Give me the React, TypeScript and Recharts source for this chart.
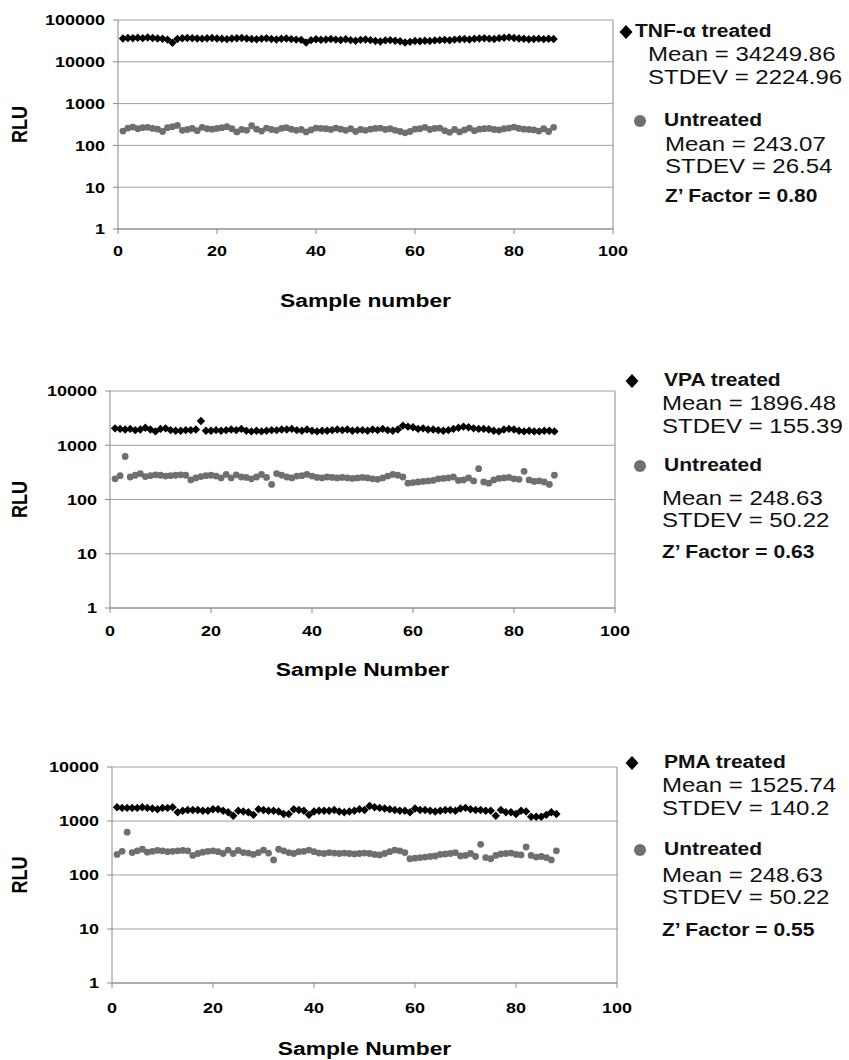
import React from "react"
import { ScatterChart, Scatter, XAxis, YAxis, CartesianGrid, ReferenceLine } from "recharts"

// the scanned figure is stretched horizontally, text is scaled the same way
const SX = 1.2
const FONT = "'Liberation Sans', Arial, Helvetica, sans-serif"

const xTicks = [0, 20, 40, 60, 80, 100]
const yTicksTnf = [1, 10, 100, 1000, 10000, 100000]
const yTicksSmall = [1, 10, 100, 1000, 10000]

// TNF-alpha panel
const tnfTreated = [
  36000, 37000, 36500, 37500, 36800, 38000, 37200, 36000, 35500, 34000,
  28500, 35000, 36500, 37000, 36800, 36200, 35800, 36500, 37000, 36000,
  35500, 34800, 36000, 36500, 37200, 36000, 35200, 34500, 35800, 36500,
  35000, 34200, 35500, 36000, 34800, 34000, 33500, 29000, 33000, 34500,
  33800, 34200, 35000, 34000, 33200, 34500, 33000, 32000, 33500, 34200,
  33000, 31500, 30500, 32500, 33000, 32000, 31000, 29000, 30000, 31500,
  31000, 32000, 31500, 32500, 33000, 33500, 32800, 34000, 34500, 35000,
  34200, 35500, 36000, 36500, 35800, 35200, 36800, 37500, 38500, 37000,
  36000, 35500, 34500, 35000, 35800, 34800, 35500, 35000,
]
const tnfUntreated = [
  220, 260, 275, 250, 265, 270, 255, 245, 215, 265,
  280, 300, 230, 240, 255, 225, 270, 250, 245, 255,
  265, 280, 250, 210, 240, 230, 295, 245, 220, 260,
  240, 230, 255, 265, 245, 230, 240, 210, 235, 260,
  255, 250, 240, 260, 245, 230, 250, 215, 240, 230,
  245, 255, 260, 240, 250, 230, 215, 200, 215, 245,
  250, 270, 240, 255, 260, 225, 205, 240, 210, 235,
  260, 225, 245, 250, 255, 240, 235, 250, 260, 275,
  255, 245, 240, 235, 220, 250, 215, 270,
]

// VPA panel
const vpaTreated = [
  2050, 2000, 1950, 2000, 1900, 1950, 2100, 1950, 1800, 2000,
  2050, 1900, 1850, 1850, 1900, 1900, 1950, 2800, 1850, 1850,
  1900, 1850, 1900, 1950, 1900, 2000, 1850, 1800, 1850, 1800,
  1850, 1900, 1900, 1950, 1950, 2000, 1900, 1850, 1950, 1850,
  1800, 1850, 1850, 1900, 1950, 1900, 1950, 1850, 1900, 1900,
  1850, 1950, 1900, 2000, 1900, 1850, 1950, 2300, 2200, 2150,
  2000, 2050, 1950, 1950, 1900, 1850, 1900, 2000, 2100, 2200,
  2150, 2050, 2000, 2000, 1950, 1850, 1800, 1950, 2000, 1950,
  1850, 1800, 1850, 1800, 1800, 1850, 1850, 1800,
]
// same untreated plate is shown in the VPA and PMA panels
const plateUntreated = [
  240, 275, 620, 260, 280, 300, 265, 275, 285, 280,
  270, 275, 280, 285, 280, 230, 250, 265, 275, 280,
  270, 250, 290, 250, 285, 260, 255, 240, 260, 290,
  255, 190, 300, 280, 260, 250, 270, 275, 290, 270,
  255, 250, 260, 255, 250, 255, 250, 245, 250, 255,
  250, 240, 235, 250, 270, 290, 280, 260, 200, 205,
  210, 215, 220, 225, 240, 245, 250, 260, 225, 230,
  250, 220, 370, 210, 200, 230, 245, 250, 255, 240,
  235, 330, 230, 215, 220, 210, 190, 280,
]

// PMA panel
const pmaTreated = [
  1800, 1750, 1750, 1750, 1750, 1800, 1750, 1700, 1650, 1750,
  1750, 1800, 1450, 1550, 1600, 1600, 1600, 1550, 1550, 1650,
  1650, 1550, 1450, 1250, 1550, 1500, 1450, 1300, 1650, 1600,
  1550, 1550, 1500, 1350, 1350, 1650, 1600, 1550, 1300, 1500,
  1550, 1550, 1550, 1600, 1500, 1450, 1500, 1550, 1650, 1600,
  1900, 1800, 1750, 1700, 1650, 1600, 1550, 1550, 1450, 1700,
  1600, 1600, 1550, 1500, 1550, 1600, 1600, 1550, 1700, 1750,
  1650, 1600, 1600, 1550, 1550, 1250, 1600, 1450, 1450, 1350,
  1550, 1500, 1200, 1200, 1200, 1300, 1450, 1350,
]

const tnfStats = ["TNF-α treated", "Mean = 34249.86", "STDEV = 2224.96", "Untreated", "Mean = 243.07", "STDEV = 26.54", "Z’ Factor = 0.80"]
const vpaStats = ["VPA treated", "Mean = 1896.48", "STDEV = 155.39", "Untreated", "Mean = 248.63", "STDEV = 50.22", "Z’ Factor = 0.63"]
const pmaStats = ["PMA treated", "Mean = 1525.74", "STDEV = 140.2", "Untreated", "Mean = 248.63", "STDEV = 50.22", "Z’ Factor = 0.55"]

const toPoints = (vals: number[]) => vals.map((y, i) => ({ x: i + 1, y }))

const Diamond = (props: any) => {
  const { cx, cy } = props
  return <polygon points={`${cx},${cy - 4.2} ${cx + 4.2},${cy} ${cx},${cy + 4.2} ${cx - 4.2},${cy}`} fill="#000" />
}
const Dot = (props: any) => <circle cx={props.cx} cy={props.cy} r={3.4} fill="#6f6f6f" />

const YTick = (props: any) => {
  const { x, y, payload } = props
  return (
    <g transform={`translate(${x},${y}) scale(${SX},1)`}>
      <text x={0} y={0} dy="0.36em" textAnchor="end" fontFamily={FONT} fontWeight="bold" fontSize={15} fill="#000">
        {payload.value}
      </text>
    </g>
  )
}
const XTick = (props: any) => {
  const { x, y, payload } = props
  return (
    <g transform={`translate(${x},${y}) scale(${SX},1)`}>
      <text x={0} y={0} dy="0.71em" textAnchor="middle" fontFamily={FONT} fontWeight="bold" fontSize={15} fill="#000">
        {payload.value}
      </text>
    </g>
  )
}

function Panel({ top, left, right, bottom, yTicks, treated, untreated, xTitle, tickGap, titleGap }: any) {
  const W = 640
  const axisH = 95
  const H = 20 + (bottom - top) + axisH
  const xTitleLabel = (p: any) => {
    const vb = p.viewBox
    return (
      <g transform={`translate(${vb.x + vb.width / 2},${vb.y + titleGap}) scale(${SX},1)`}>
        <text dy="0.36em" textAnchor="middle" fontFamily={FONT} fontWeight="bold" fontSize={19} fill="#000">{xTitle}</text>
      </g>
    )
  }
  const yTitleLabel = (p: any) => {
    const vb = p.viewBox
    return (
      <g transform={`translate(19,${vb.y + vb.height / 2}) scale(${SX},1) rotate(-90)`}>
        <text dy="0.36em" textAnchor="middle" fontFamily={FONT} fontWeight="bold" fontSize={18} fill="#000">RLU</text>
      </g>
    )
  }
  return (
    <div style={{ position: "absolute", left: 0, top: top - 20, width: W, height: H }}>
      <ScatterChart width={W} height={H} margin={{ top: 20, right: W - right, bottom: 0, left: 0 }}>
        <CartesianGrid vertical={false} stroke="#a0a0a0" />
        <XAxis
          type="number"
          dataKey="x"
          domain={[0, 100]}
          ticks={xTicks}
          height={axisH}
          stroke="#8a8a8a"
          tickSize={5}
          tickMargin={tickGap}
          tick={<XTick />}
          label={{ value: xTitle, content: xTitleLabel }}
        />
        <YAxis
          type="number"
          dataKey="y"
          scale="log"
          domain={[1, yTicks[yTicks.length - 1]]}
          ticks={yTicks}
          allowDataOverflow
          width={left}
          stroke="#8a8a8a"
          tickSize={5}
          tickMargin={8}
          tick={<YTick />}
          label={{ value: "RLU", content: yTitleLabel }}
        />
        <ReferenceLine x={100} stroke="#8a8a8a" />
        <Scatter data={toPoints(untreated)} shape={<Dot />} isAnimationActive={false} />
        <Scatter data={toPoints(treated)} shape={<Diamond />} isAnimationActive={false} />
      </ScatterChart>
    </div>
  )
}

function Txt({ x, y, size, bold, children }: any) {
  return (
    <div
      style={{
        position: "absolute",
        left: x,
        top: y - size * 0.49,
        fontFamily: FONT,
        fontSize: size,
        fontWeight: bold ? "bold" : "normal",
        lineHeight: 1,
        whiteSpace: "nowrap",
        color: "#111",
        transform: `scaleX(${SX})`,
        transformOrigin: "0 0",
      }}
    >
      {children}
    </div>
  )
}

function Marker({ x, y, kind }: any) {
  return (
    <svg style={{ position: "absolute", left: x - 7, top: y - 7 }} width={14} height={14}>
      {kind === "diamond" ? (
        <polygon points="7,0 13.5,7 7,14 0.5,7" fill="#000" />
      ) : (
        <circle cx={7} cy={7} r={6} fill="#6f6f6f" />
      )}
    </svg>
  )
}

function Legend({ stats, pos }: any) {
  const reg = 20
  const bld = 17.5
  return (
    <>
      <Marker x={pos.dx} y={pos.ty} kind="diamond" />
      <Txt x={pos.tx} y={pos.ty} size={bld} bold>{stats[0]}</Txt>
      <Txt x={pos.mx} y={pos.ty + 22} size={reg}>{stats[1]}</Txt>
      <Txt x={pos.mx} y={pos.ty + 45} size={reg}>{stats[2]}</Txt>
      <Marker x={640} y={pos.uy} kind="circle" />
      <Txt x={664} y={pos.uy} size={bld} bold>{stats[3]}</Txt>
      <Txt x={pos.ux} y={pos.uy + pos.ug} size={reg}>{stats[4]}</Txt>
      <Txt x={pos.ux} y={pos.uy + pos.ug + 22} size={reg}>{stats[5]}</Txt>
      <Txt x={pos.ux} y={pos.zy} size={bld} bold>{stats[6]}</Txt>
    </>
  )
}

export default function App() {
  return (
    <div style={{ position: "absolute", left: 0, top: 0, width: 849, height: 1060, background: "#fff", overflow: "hidden" }}>
      <Panel top={20} left={118} right={613} bottom={229} yTicks={yTicksTnf} treated={tnfTreated} untreated={tnfUntreated}
        xTitle="Sample number" tickGap={11} titleGap={71} />
      <Panel top={391} left={110} right={615} bottom={608} yTicks={yTicksSmall} treated={vpaTreated} untreated={plateUntreated}
        xTitle="Sample Number" tickGap={12} titleGap={61} />
      <Panel top={767} left={112} right={617} bottom={983} yTicks={yTicksSmall} treated={pmaTreated} untreated={plateUntreated}
        xTitle="Sample Number" tickGap={14} titleGap={65} />
      <Legend stats={tnfStats} pos={{ dx: 626, tx: 635, mx: 648, ty: 32, uy: 121, ug: 23, ux: 665, zy: 197 }} />
      <Legend stats={vpaStats} pos={{ dx: 632, tx: 664, mx: 662, ty: 381, uy: 466, ug: 32, ux: 662, zy: 553 }} />
      <Legend stats={pmaStats} pos={{ dx: 632, tx: 664, mx: 662, ty: 763, uy: 850, ug: 25, ux: 662, zy: 931 }} />
    </div>
  )
}
